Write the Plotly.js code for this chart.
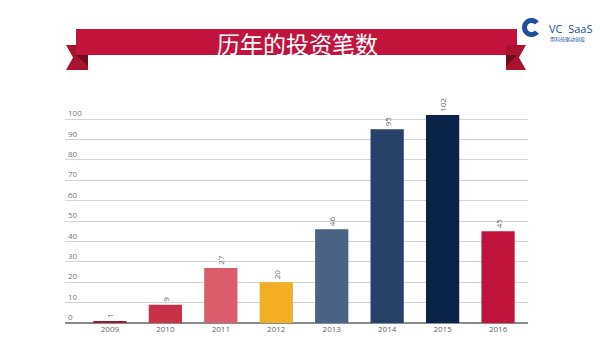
<!DOCTYPE html>
<html><head><meta charset="utf-8">
<script src="https://cdn.plot.ly/plotly-3.0.1.min.js"></script>
<style>html,body{margin:0;padding:0;background:#fff}#chart{width:600px;height:357px}</style>
</head><body><div id="chart"></div>
<script>
const years = ['2009', '2010', '2011', '2012', '2013', '2014', '2015', '2016'];
const counts = [1, 9, 27, 20, 46, 95, 102, 45];
const barColors = ['#9e1b34', '#c93148', '#d95d6d', '#f2ae24', '#4a6283', '#26426a', '#0b2349', '#c0143c'];
const yTicks = [0, 10, 20, 30, 40, 50, 60, 70, 80, 90, 100];
const titleText = '历年的投资笔数';
const logoText = 'VC  SaaS';
const logoSub = '用科技驱动创投';

// plot area in pixels
const L = 65, R = 528, T = 95, B = 323;
const X = p => (p - L) / (R - L);
const Y = p => (B - p) / (B - T);
function path(pts) {
  return 'M ' + pts.map(p => X(p[0]).toFixed(5) + ',' + Y(p[1]).toFixed(5)).join(' L ') + ' Z';
}
function poly(pts, color) {
  return {type: 'path', xref: 'paper', yref: 'paper', path: path(pts), fillcolor: color, line: {width: 0}, layer: 'above'};
}
// logo arc
function arcPts(cx, cy, ro, ri, a0, a1, n) {
  const pts = [];
  for (let i = 0; i <= n; i++) {
    const a = (a0 + (a1 - a0) * i / n) * Math.PI / 180;
    pts.push([cx + ro * Math.cos(a), cy - ro * Math.sin(a)]);
  }
  for (let i = n; i >= 0; i--) {
    const a = (a0 + (a1 - a0) * i / n) * Math.PI / 180;
    pts.push([cx + ri * Math.cos(a), cy - ri * Math.sin(a)]);
  }
  return pts;
}

const shapes = [
  poly([[66, 45], [88, 45], [88, 70], [66, 70], [73, 57.5]], '#a8142f'),
  poly([[76, 55], [88, 55], [88, 66]], '#6f0b1f'),
  poly([[76, 29], [517, 29], [517, 55], [76, 55]], '#c0143c'),
  poly([[506, 45], [526, 45], [519, 57.5], [526, 70], [506, 70]], '#a8142f'),
  poly([[506, 55], [517, 55], [506, 66]], '#6f0b1f'),
  poly(arcPts(531.5, 27.5, 9.5, 4.5, 40, 320, 40), '#1f4e9c')
];

const trace = {
  type: 'bar',
  x: years,
  y: counts,
  marker: {color: barColors, line: {width: 0}},
  text: counts.map(String),
  textposition: 'outside',
  textangle: -90,
  textfont: {family: 'Open Sans, sans-serif', size: 8, color: '#666'},
  cliponaxis: false,
  hoverinfo: 'none'
};

const layout = {
  width: 600, height: 357,
  margin: {l: L, r: 600 - R, t: T, b: 357 - B},
  paper_bgcolor: '#fff', plot_bgcolor: '#fff',
  showlegend: false,
  bargap: 0.4,
  font: {family: 'Open Sans, sans-serif'},
  xaxis: {
    type: 'category', range: [-0.81, 7.54], showgrid: false, showline: false, ticks: '',
    tickfont: {size: 8, color: '#666'}, fixedrange: true
  },
  yaxis: {
    range: [0, (B - T) / 2.04], tickvals: yTicks, ticktext: yTicks.map(String),
    ticklabelposition: 'inside top', tickfont: {size: 8, color: '#777'},
    showgrid: true, gridcolor: '#d4d4d4', gridwidth: 1,
    zeroline: true, zerolinecolor: '#8a8a8a', zerolinewidth: 2,
    showline: false, ticks: '', fixedrange: true
  },
  shapes: shapes,
  annotations: [
    {xref: 'paper', yref: 'paper', x: X(297), y: Y(43), text: titleText, showarrow: false,
     xanchor: 'center', yanchor: 'middle', font: {family: 'Noto Sans CJK SC', size: 23, color: '#ffffff'}},
    {xref: 'paper', yref: 'paper', x: X(547), y: Y(28), text: logoText, showarrow: false,
     xanchor: 'left', yanchor: 'middle', font: {family: 'Open Sans, sans-serif', size: 11, color: '#1f4e9c'}},
    {xref: 'paper', yref: 'paper', x: X(548), y: Y(38.5), text: logoSub, showarrow: false,
     xanchor: 'left', yanchor: 'middle', font: {family: 'Noto Sans CJK SC', size: 5, color: '#1f4e9c'}}
  ]
};

Plotly.newPlot('chart', [trace], layout, {displayModeBar: false, staticPlot: true});
</script></body></html>
